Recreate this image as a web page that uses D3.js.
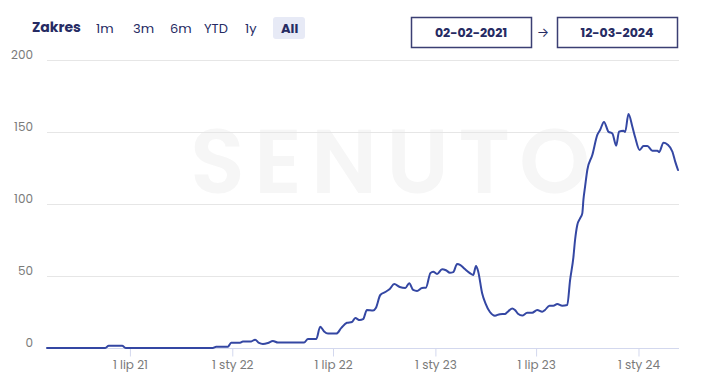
<!DOCTYPE html>
<html>
<head>
<meta charset="utf-8">
<script src="https://cdn.jsdelivr.net/npm/d3@7"></script>
<style>
  html, body { margin: 0; padding: 0; background: #fff; }
  body { font-family: Poppins, Inter, "Open Sans", sans-serif; }
  svg text { font-family: Poppins, Inter, "Open Sans", sans-serif; }
</style>
</head>
<body>
<div id="chart"></div>
<script>
// data
var dates = ["2021-02-02","2021-05-17","2021-05-24","2021-06-17","2021-06-24","2021-11-27","2021-12-03","2021-12-24",
  "2021-12-30","2022-01-15","2022-01-20","2022-02-04","2022-02-11","2022-02-18","2022-02-25","2022-03-06",
  "2022-03-15","2022-03-24","2022-05-10","2022-05-17","2022-06-01","2022-06-08","2022-06-15","2022-06-22",
  "2022-07-07","2022-07-16","2022-07-26","2022-08-04","2022-08-10","2022-08-18","2022-08-24","2022-08-31",
  "2022-09-11","2022-09-16","2022-09-24","2022-10-03","2022-10-11","2022-10-19","2022-10-29","2022-11-08",
  "2022-11-15","2022-11-22","2022-11-29","2022-12-08","2022-12-15","2022-12-23","2022-12-28","2023-01-04",
  "2023-01-13","2023-01-20","2023-01-27","2023-02-02","2023-02-09","2023-02-15","2023-02-23","2023-03-04",
  "2023-03-10","2023-03-15","2023-03-19","2023-03-26","2023-04-01","2023-04-09","2023-04-18","2023-04-27",
  "2023-05-06","2023-05-10","2023-05-19","2023-05-24","2023-05-30","2023-06-06","2023-06-15","2023-06-24",
  "2023-07-03","2023-07-12","2023-07-17","2023-07-25","2023-08-01","2023-08-08","2023-08-17","2023-08-26",
  "2023-08-31","2023-09-06","2023-09-09","2023-09-13","2023-09-18","2023-09-22","2023-09-24","2023-09-27",
  "2023-10-01","2023-10-10","2023-10-19","2023-10-24","2023-10-31","2023-11-08","2023-11-15","2023-11-22",
  "2023-11-27","2023-12-05","2023-12-08","2023-12-14","2023-12-21","2023-12-26","2024-01-03","2024-01-10",
  "2024-01-17","2024-01-26","2024-02-04","2024-02-07","2024-02-15","2024-02-22","2024-03-02","2024-03-07",
  "2024-03-12"];
var values = [0,0,1.5,1.5,0,0,0.8,0.8,
  3.7,3.7,4.5,4.6,5.8,3.5,2.8,3.5,
  4.9,3.8,3.8,6.3,6.3,14.8,11.5,10,
  10,14,17.5,18,20.8,19.4,20,26.4,
  26,27.8,36.8,38.9,41,44.4,42.4,41.7,
  45,40.3,39.6,41.7,41.9,52,53,51.4,
  54.7,54,52.3,52.7,58.3,57.6,54.8,52,
  50.7,56.9,53,38,31,25,22.4,23.5,
  23.6,24.8,27.5,26.4,23.6,22.5,24.5,24.5,
  26.4,25.2,26.4,29.4,29.4,30.6,29.4,29.9,
  47,63,75,85.4,90,93.5,102.8,112,
  123.6,134,148,151.4,157,150.2,149,140.5,
  150.2,150.9,150,162.5,153.7,146.3,137.5,140.3,
  140.3,137,137,136,142.6,141.4,136.3,129.4,
  123.6];
var yTicks = [0, 50, 100, 150, 200];
var xTicks = ["2021-07-01","2022-01-01","2022-07-01","2023-01-01","2023-07-01","2024-01-01"];
var monthNames = ["sty","lut","mar","kwi","maj","cze","lip","sie","wrz","paź","lis","gru"];
var rangeButtons = ["1m","3m","6m","YTD","1y","All"];
var startLabel = "02-02-2021", endLabel = "12-03-2024";

var W = 718, H = 381;
var margin = {left: 47, right: 40, top: 60, bottom: 33};
var parse = d3.timeParse("%Y-%m-%d");
var navy = "#262b63";

var data = dates.map(function(d, i) { return {date: parse(d), value: values[i]}; });

var svg = d3.select("#chart").append("svg")
    .attr("width", W).attr("height", H);

var x = d3.scaleTime()
    .domain([parse("2021-02-02"), parse("2024-03-12")])
    .range([margin.left, W - margin.right]);
var y = d3.scaleLinear()
    .domain([0, 200])
    .range([H - margin.bottom, margin.top]);

// watermark
svg.append("text")
    .attr("x", 190).attr("y", 193)
    .attr("textLength", 400).attr("lengthAdjust", "spacing")
    .attr("font-size", 90).attr("font-weight", 600)
    .attr("fill", "#f6f6f6")
    .text("SENUTO");

// grid
svg.append("g").selectAll("line")
    .data(yTicks.filter(function(t) { return t > 0; }))
    .enter().append("line")
    .attr("x1", margin.left).attr("x2", W - margin.right + 1)
    .attr("y1", function(d) { return y(d) + 0.5; })
    .attr("y2", function(d) { return y(d) + 0.5; })
    .attr("stroke", "#e6e6e6").attr("stroke-width", 1);

svg.append("g").selectAll("text")
    .data(yTicks)
    .enter().append("text")
    .attr("x", 33).attr("y", function(d) { return y(d) - 1; })
    .attr("text-anchor", "end")
    .attr("font-size", 12).attr("fill", "#7a7a7a")
    .text(function(d) { return d; });

// x axis
var xAxis = d3.axisBottom(x)
    .tickValues(xTicks.map(parse))
    .tickSize(8).tickPadding(4)
    .tickFormat(function(d) { return "1 " + monthNames[d.getMonth()] + " " + String(d.getFullYear()).slice(2); });

var gx = svg.append("g")
    .attr("transform", "translate(0," + (y(0) + 0.5) + ")")
    .call(xAxis);
gx.select(".domain").attr("stroke", "#d3d8ee").attr("d", "M" + margin.left + ",0H" + (W - margin.right + 1));
gx.selectAll(".tick line").attr("stroke", "#d3d8ee");
gx.selectAll(".tick text").attr("fill", "#7a7a7a").attr("font-size", 12)
    .style("font-family", "Poppins, Inter, 'Open Sans', sans-serif");

// line
var line = d3.line()
    .x(function(d) { return x(d.date); })
    .y(function(d) { return y(d.value); })
    .curve(d3.curveMonotoneX);

svg.append("path")
    .datum(data)
    .attr("fill", "none")
    .attr("stroke", "#3447a3")
    .attr("stroke-width", 2)
    .attr("stroke-linejoin", "round")
    .attr("stroke-linecap", "round")
    .attr("d", line);

// header: range selector
svg.append("text")
    .attr("x", 32).attr("y", 32)
    .attr("font-size", 14).attr("font-weight", 700).attr("fill", navy)
    .text("Zakres");

var btnX = [96, 133, 170, 204, 245, 281];
var btns = svg.append("g").selectAll("g")
    .data(rangeButtons)
    .enter().append("g");
btns.filter(function(d) { return d === "All"; })
    .append("rect")
    .attr("x", 273).attr("y", 17).attr("width", 32).attr("height", 22).attr("rx", 3)
    .attr("fill", "#e7eaf6");
btns.append("text")
    .attr("x", function(d, i) { return btnX[i]; })
    .attr("y", 33)
    .attr("font-size", 13)
    .attr("font-weight", function(d) { return d === "All" ? 700 : 400; })
    .attr("fill", navy)
    .text(function(d) { return d; });

// header: date boxes
[[411, startLabel], [557, endLabel]].forEach(function(b) {
    svg.append("rect")
        .attr("x", b[0] + 0.5).attr("y", 17.5).attr("width", 120).attr("height", 30)
        .attr("fill", "#fff").attr("stroke", "#3b3f73").attr("stroke-width", 1.5);
    svg.append("text")
        .attr("x", b[0] + 60).attr("y", 37)
        .attr("text-anchor", "middle")
        .attr("font-size", 12.5).attr("font-weight", 700).attr("fill", navy)
        .text(b[1]);
});
svg.append("text")
    .attr("x", 543).attr("y", 37)
    .attr("text-anchor", "middle")
    .attr("font-size", 13).attr("fill", navy)
    .text("\u2192");
</script>
</body>
</html>
